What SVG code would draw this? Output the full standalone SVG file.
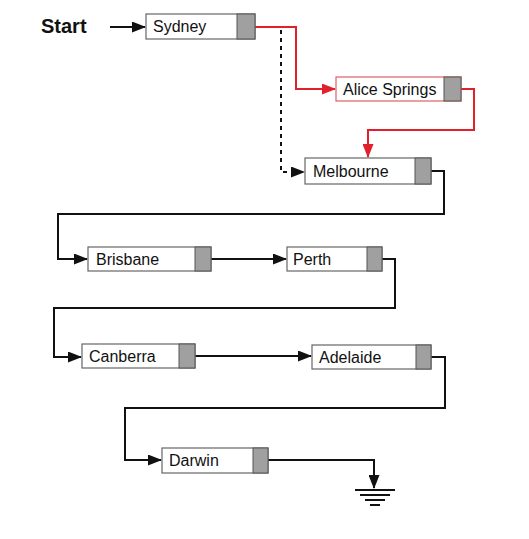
<svg xmlns="http://www.w3.org/2000/svg" width="529" height="539" viewBox="0 0 529 539">
<style>
.box{fill:#fff;stroke:#666;stroke-width:1.2}
.red{fill:#fff;stroke:#e06060;stroke-width:1.2}
.tab{fill:#a0a0a0;stroke:#555;stroke-width:1}
.lbl{font-family:"Liberation Sans",Arial,sans-serif;font-size:16px;fill:#111}
.ln{fill:none;stroke:#111;stroke-width:2}
.rl{fill:none;stroke:#e0202a;stroke-width:2}
</style>
<defs>
<marker id="ab" markerWidth="14" markerHeight="11" refX="13" refY="5.5" orient="auto" markerUnits="userSpaceOnUse"><path d="M0,0 L14,5.5 L0,11 Z" fill="#111"/></marker>
<marker id="ar" markerWidth="14" markerHeight="11" refX="13" refY="5.5" orient="auto" markerUnits="userSpaceOnUse"><path d="M0,0 L14,5.5 L0,11 Z" fill="#e0202a"/></marker>
</defs>
<rect width="529" height="539" fill="#fff"/>
<g id="start"><text x="41" y="33" font-family="Liberation Sans,Arial,sans-serif" font-size="20" font-weight="bold" fill="#111">Start</text></g>
<g id="connectors">
<path class="ln" d="M110,27 H145" marker-end="url(#ab)"/>
<path class="rl" d="M255,27 H296 V89 H335" marker-end="url(#ar)"/>
<path class="rl" d="M461,89 H474 V130 H368 V157" marker-end="url(#ar)"/>
<path class="ln" d="M281,30 V172 H304" stroke-dasharray="4,4" marker-end="url(#ab)"/>
<path class="ln" d="M431,171 H444 V214 H58 V259 H87" marker-end="url(#ab)"/>
<path class="ln" d="M211,259 H286" marker-end="url(#ab)"/>
<path class="ln" d="M382,259 H395 V308 H54 V357 H81" marker-end="url(#ab)"/>
<path class="ln" d="M195,356 H311" marker-end="url(#ab)"/>
<path class="ln" d="M431,357 H445 V408 H125 V460 H161" marker-end="url(#ab)"/>
<path class="ln" d="M268,460 H374 V488" marker-end="url(#ab)"/>
<g stroke="#111" stroke-width="2">
<line x1="355" y1="490" x2="395" y2="490"/>
<line x1="360" y1="495" x2="390" y2="495"/>
<line x1="365" y1="500" x2="385" y2="500"/>
<line x1="370" y1="505" x2="380" y2="505"/>
</g>
</g>
<g id="sydney"><rect class="box" x="146" y="14" width="109" height="25"/><rect class="tab" x="237" y="14" width="18" height="25"/><text class="lbl" x="153" y="32">Sydney</text></g>
<g id="alice"><rect class="red" x="336" y="77" width="125" height="24"/><rect class="tab" x="444" y="77" width="17" height="24"/><text class="lbl" x="343" y="95">Alice Springs</text></g>
<g id="melbourne"><rect class="box" x="305" y="158" width="126" height="26"/><rect class="tab" x="415" y="158" width="16" height="26"/><text class="lbl" x="313" y="177">Melbourne</text></g>
<g id="brisbane"><rect class="box" x="88" y="247" width="123" height="24"/><rect class="tab" x="195" y="247" width="16" height="24"/><text class="lbl" x="96" y="265">Brisbane</text></g>
<g id="perth"><rect class="box" x="287" y="247" width="95" height="24"/><rect class="tab" x="367" y="247" width="15" height="24"/><text class="lbl" x="293" y="265">Perth</text></g>
<g id="canberra"><rect class="box" x="82" y="344" width="113" height="24"/><rect class="tab" x="179" y="344" width="16" height="24"/><text class="lbl" x="89" y="362">Canberra</text></g>
<g id="adelaide"><rect class="box" x="312" y="345" width="119" height="24"/><rect class="tab" x="416" y="345" width="15" height="24"/><text class="lbl" x="319" y="363">Adelaide</text></g>
<g id="darwin"><rect class="box" x="162" y="448" width="106" height="25"/><rect class="tab" x="253" y="448" width="15" height="25"/><text class="lbl" x="169" y="466">Darwin</text></g>
</svg>
